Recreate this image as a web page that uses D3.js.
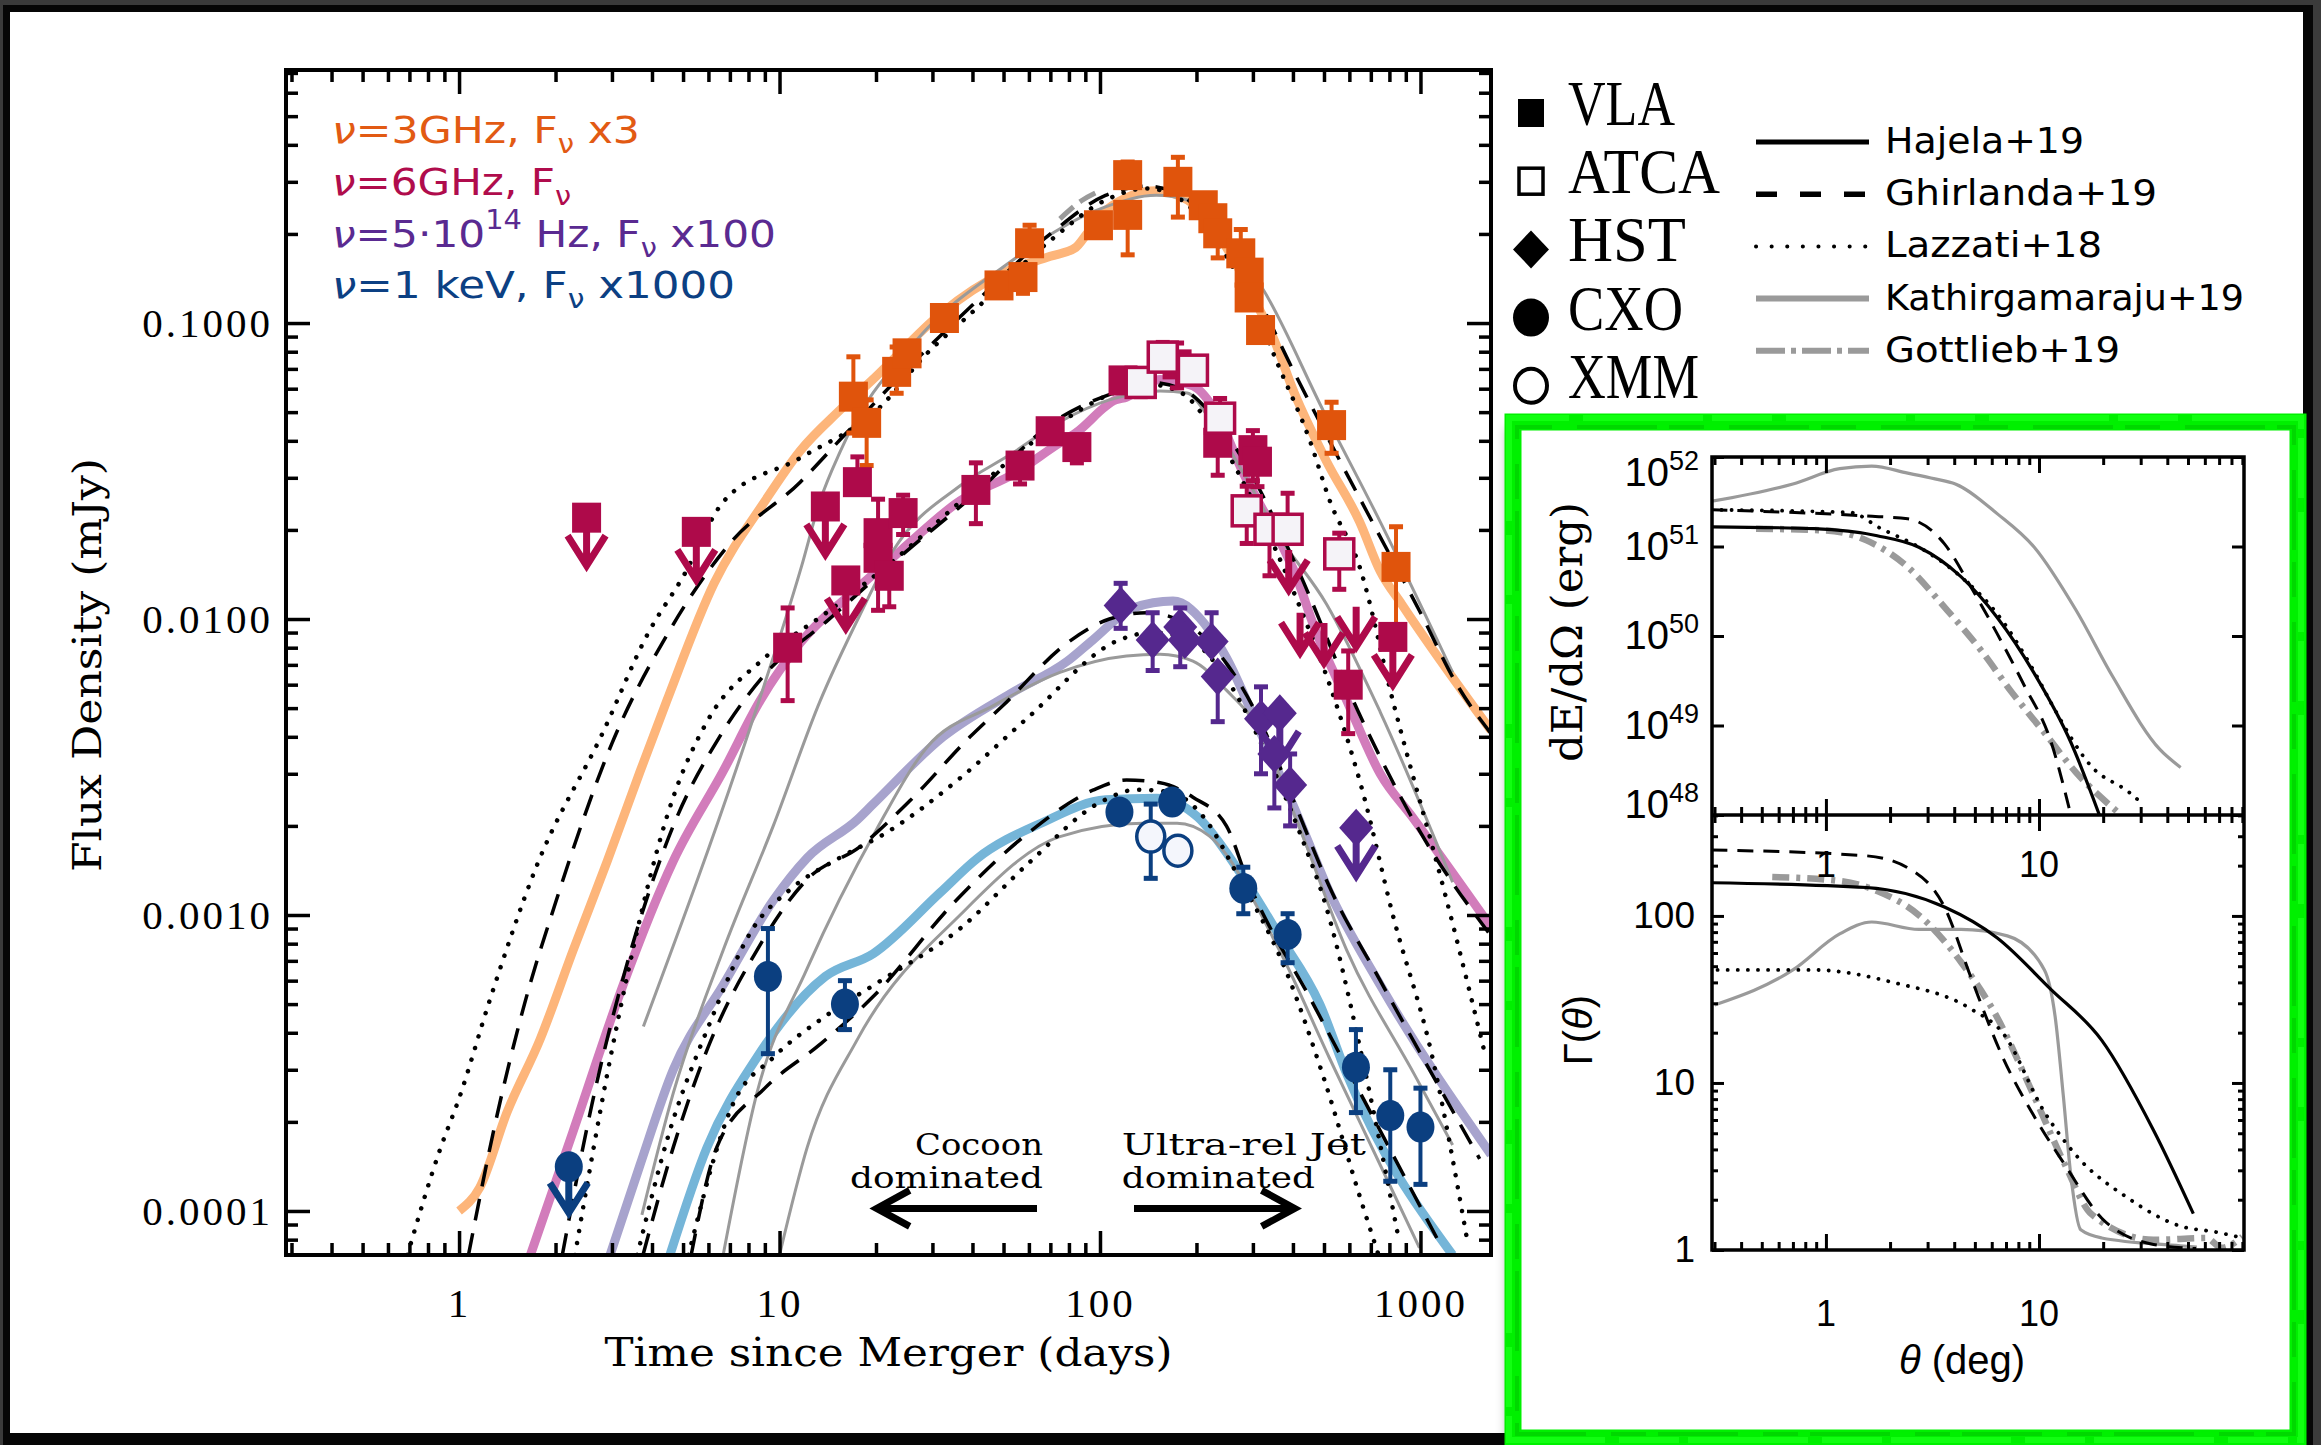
<!DOCTYPE html>
<html>
<head>
<meta charset="utf-8">
<script src="https://cdn.jsdelivr.net/npm/d3@7"></script>
<style>
  body { margin: 0; background: #3b3b3b; }
  svg { display: block; }
</style>
</head>
<body>
<svg id="chart" width="2321" height="1445"></svg>
<script>
// ---------- values ----------
// light curves: [days, mJy] (band scaling already applied)
var hajela3 = [[1,1e-4],[1.16,1.2e-4],[1.41,2.15e-4],[1.79,3.8e-4],[2.27,7.6e-4],[2.9,1.52e-3],[3.67,3.05e-3],[4.45,5.3e-3],[6.25,0.0132],[9,0.025],[11.6,0.037],[15.5,0.051],[20,0.066],[32,0.108],[50,0.148],[70,0.168],[84,0.18],[91,0.2],[104,0.24],[150,0.28],[188,0.26],[262,0.163],[312,0.113],[346,0.09],[404,0.058],[510,0.034],[646,0.0213],[749,0.0145],[875,0.0112],[1660,0.0042]];
var ghirlanda3 = [[1.07,7.1e-5],[1.3,2e-4],[1.6,5e-4],[2,1.1e-3],[3,3.8e-3],[4.5,9e-3],[7,0.018],[11.6,0.029],[16,0.042],[25,0.07],[40,0.115],[70,0.2],[104,0.27],[140,0.29],[180,0.27],[230,0.2],[300,0.13],[404,0.068],[520,0.04],[712,0.021],[1000,0.0105],[1300,0.006],[1660,0.0041]];
var lazzati3 = [[0.69,7.1e-5],[0.87,1.6e-4],[1,2.4e-4],[1.25,5.2e-4],[1.74,1.45e-3],[2.8,4.1e-3],[3.9,9e-3],[5,0.0139],[6.7,0.025],[11.6,0.035],[20.6,0.052],[28.8,0.0788],[39.3,0.107],[70,0.19],[104,0.26],[140,0.285],[180,0.26],[230,0.19],[300,0.115],[362,0.071],[452,0.04],[522,0.025],[646,0.015],[820,0.0053],[1200,0.00115],[1600,3.3e-4]];
var kathir3 = [[3.76,4.2e-4],[8.1,4.3e-3],[11.7,0.015],[13.4,0.0252],[15.5,0.037],[26.8,0.0877],[50,0.155],[104,0.247],[150,0.27],[188,0.26],[242,0.2],[324,0.129],[500,0.05],[749,0.0213],[1260,0.0066]];
var gottlieb3 = [[75,0.225],[88,0.26],[100,0.28]];

var hajela6 = [[1.67,7.1e-5],[2.27,1.86e-4],[3.25,5.8e-4],[4.66,1.52e-3],[6.67,3.06e-3],[8.7,5.3e-3],[11.6,8.3e-3],[17.8,0.0129],[24,0.0171],[36.6,0.0251],[54,0.031],[75,0.0394],[84,0.0425],[112,0.055],[121,0.0562],[154,0.0645],[195,0.0613],[225,0.052],[279,0.0314],[376,0.0171],[404,0.0145],[466,0.0094],[589,0.0053],[749,0.003],[944,0.00214],[1660,9.1e-4]];
var ghirlanda6 = [[2.1,7.1e-5],[2.6,2.3e-4],[3.3,6.5e-4],[4.66,2.0e-3],[6.5,4e-3],[9,6.5e-3],[14,0.0098],[22.6,0.0155],[40,0.026],[75,0.0478],[110,0.058],[143,0.063],[180,0.06],[220,0.05],[282,0.034],[400,0.016],[655,0.0046],[1000,0.0019],[1660,8.5e-4]];
var lazzati6 = [[2.3,7.1e-5],[3.0,3.5e-4],[4.66,2.5e-3],[5.94,4.5e-3],[9,7.4e-3],[14,0.0105],[22.6,0.0157],[40,0.027],[75,0.046],[110,0.058],[143,0.062],[180,0.058],[230,0.042],[300,0.025],[404,0.0122],[551,0.005],[661,0.0026],[820,0.001],[1090,3.3e-4],[1390,8.3e-5]];
var kathir6 = [[3.72,9.7e-5],[4.66,2.5e-4],[6.67,7.6e-4],[9.56,2.0e-3],[13.4,5.3e-3],[17.8,0.0103],[22.6,0.017],[36.6,0.0282],[52.6,0.036],[75,0.0464],[107,0.055],[154,0.0589],[187,0.058],[219,0.0477],[279,0.0314],[356,0.0196],[510,0.0112],[749,0.00485],[1260,0.00129]];

var hajelaOpt = [[2.96,7.1e-5],[3.67,1.43e-4],[4.66,3.0e-4],[6.67,5.8e-4],[9.56,1.12e-3],[12.2,1.56e-3],[17.5,2.1e-3],[19.6,2.37e-3],[32.4,4.0e-3],[52.6,5.6e-3],[79,7.2e-3],[95,8.5e-3],[127,0.0109],[169,0.0115],[219,9.2e-3],[248,7.4e-3],[315,4.2e-3],[404,2.3e-3],[519,1.2e-3],[749,5.8e-4],[1660,1.55e-4]];
var ghirlandaOpt = [[3.75,7.1e-5],[4.66,1.64e-4],[5.94,3.5e-4],[8.5,7.6e-4],[12.2,1.32e-3],[17.8,1.7e-3],[25.5,2.43e-3],[39.3,4.0e-3],[49.8,5.1e-3],[79,8.3e-3],[107,0.01],[140,0.0105],[190,9.5e-3],[250,7.0e-3],[320,4.4e-3],[404,2.4e-3],[519,1.25e-3],[749,6e-4],[1530,1.5e-4]];
var lazzatiOpt = [[3.6,7.1e-5],[4.5,1.8e-4],[6,4.2e-4],[8.26,9e-4],[10.8,1.22e-3],[15.4,1.56e-3],[21.6,1.9e-3],[36.6,2.9e-3],[59,4.6e-3],[115,8.5e-3],[145,9e-3],[190,8.5e-3],[250,6.2e-3],[330,3.5e-3],[420,1.9e-3],[510,1.05e-3],[650,3.5e-4],[860,7.8e-5]];
var kathirOpt = [[6.67,7.1e-5],[8.5,2.5e-4],[12.2,6.6e-4],[20.1,1.95e-3],[28.8,3.68e-3],[46.5,5.1e-3],[75,6.6e-3],[121,7.5e-3],[154,7.6e-3],[195,7.2e-3],[248,5.75e-3],[315,4.2e-3],[411,2.09e-3],[589,7.6e-4],[956,2.9e-4],[1260,1.67e-4]];

var hajelaX = [[4.55,7.1e-5],[5.94,1.64e-4],[8.5,3.3e-4],[13.9,6.2e-4],[19.6,7.4e-4],[31.7,1.19e-3],[41.3,1.55e-3],[66,2.05e-3],[104,2.45e-3],[150,2.48e-3],[202,2.14e-3],[270,1.42e-3],[363,8.5e-4],[485,5.0e-4],[589,2.9e-4],[1260,7.1e-5]];
var ghirlandaX = [[5.3,7.1e-5],[6.37,1.64e-4],[9,2.6e-4],[13.4,3.66e-4],[19.6,5.3e-4],[35,1.1e-3],[60,1.9e-3],[95,2.64e-3],[121,2.86e-3],[154,2.8e-3],[195,2.5e-3],[248,2.0e-3],[288,1.32e-3],[463,5e-4],[1125,8.1e-5]];
var lazzatiX = [[5.2,7.1e-5],[7.16,2.3e-4],[9.56,3.3e-4],[14.1,4.6e-4],[20.2,5.9e-4],[36.6,9e-4],[60,1.5e-3],[100,2.4e-3],[130,2.65e-3],[165,2.6e-3],[210,2.15e-3],[270,1.35e-3],[380,6.5e-4],[500,2.8e-4],[650,1.1e-4],[740,7.1e-5]];
var kathirX = [[10,7.1e-5],[12.2,1.64e-4],[17.5,3.8e-4],[36.6,1.0e-3],[75,1.84e-3],[136,2.04e-3],[174,2.04e-3],[219,1.85e-3],[363,7.6e-4],[519,3.3e-4],[749,1.43e-4],[993,7.5e-5]];

// observations: [days, mJy, low end of bar, high end of bar]
var vla3 = [[17.0,0.0564,0.0425,0.0769],[18.7,0.046,0.033,0.055],[23.2,0.0684,0.0579,0.083],[25.0,0.079,0.079,0.079],[32.7,0.104,0.104,0.104],[48.4,0.134,0.134,0.134],[57.5,0.143,0.126,0.143],[60.3,0.186,0.186,0.214],[98.9,0.214,0.214,0.214],[122,0.316,0.316,0.35],[122,0.232,0.17,0.232],[175,0.30,0.228,0.363],[210,0.25,0.25,0.25],[225,0.226,0.226,0.226],[233,0.201,0.166,0.201],[275,0.172,0.172,0.207],[292,0.148,0.148,0.148],[292,0.122,0.122,0.122],[317,0.0947,0.0947,0.0947],[528,0.0452,0.0363,0.054],[839,0.015,0.0094,0.0205]];
var vla6 = [[10.6,0.008,0.0053,0.0109],[17.5,0.029,0.029,0.0353],[20.3,0.0195,0.0195,0.0254],[20.3,0.0161,0.0107,0.0161],[22,0.014,0.011,0.014],[24.3,0.0228,0.0193,0.0262],[41,0.0273,0.021,0.0337],[56.3,0.033,0.0286,0.033],[69.9,0.0431,0.0431,0.0431],[84.7,0.0381,0.0337,0.0381],[118,0.064,0.064,0.064],[174,0.0725,0.0604,0.0856],[233,0.0394,0.0306,0.0394],[300,0.0372,0.0293,0.0433],[310,0.034,0.028,0.034],[595,0.006,0.0041,0.0078]];
var vla6Limits = [[2.5,0.022],[5.5,0.0197],[13.9,0.024],[16.1,0.0135],[820,0.0087]];
var arrow6Limits = [[388,0.0171],[421,0.0105],[500,0.0097],[630,0.011]];
var atca6 = [[134,0.063,0.0564,0.063],[157,0.0767,0.0767,0.086],[195,0.0693,0.0693,0.0693],[237,0.0477,0.0477,0.0556],[287,0.0232,0.018,0.0281],[338,0.0201,0.014,0.0201],[385,0.0201,0.0201,0.0266],[558,0.0166,0.0126,0.0195]];
var hst = [[116,0.0111,0.0093,0.0132],[146,0.0085,0.0067,0.0105],[178,0.0094,0.0069,0.0109],[184,0.0085,0.0085,0.0085],[223,0.0084,0.0084,0.0105],[233,0.0064,0.0045,0.0064],[318,0.0046,0.003,0.0059],[350,0.0035,0.0023,0.0035],[392,0.00275,0.002,0.0035]];
var hstLimits = [[364,0.0048],[630,0.00197]];
var cxo = [[9.2,6.2e-4,3.4e-4,9.0e-4],[16,5.0e-4,4.1e-4,6.0e-4],[115,2.23e-3,2.23e-3,2.23e-3],[168,2.41e-3,2.41e-3,2.41e-3],[280,1.23e-3,1.01e-3,1.45e-3],[385,8.6e-4,6.9e-4,1.01e-3],[629,3.06e-4,2.15e-4,4.1e-4],[805,2.1e-4,1.26e-4,3.0e-4],[1000,1.92e-4,1.23e-4,2.6e-4]];
var cxoLimits = [[2.2,1.41e-4]];
var xmm = [[144,1.84e-3,1.33e-3,2.37e-3],[175,1.65e-3,1.65e-3,1.8e-3]];

// inset, top: [theta deg, dE/dOmega erg]
var eHajela = [[0.29,1.66e51],[0.88,1.58e51],[1.74,1.32e51],[2.73,9.8e50],[4.3,4.6e50],[6.35,1.62e50],[9.45,3.9e49],[14.1,6.5e48],[19.2,1e48]];
var eGhirlanda = [[0.29,2.57e51],[1.55,2.19e51],[2.42,2.04e51],[3.6,1.07e51],[4.8,3.5e50],[6.35,1.07e50],[8.4,3.0e49],[11.4,6.5e48],[14.1,1e48]];
var eLazzati = [[0.29,2.57e51],[1.3,2.4e51],[1.8,1.6e51],[2.7,1.0e51],[4.3,4.6e50],[6.35,1.78e50],[9.5,4.0e49],[11.4,1.78e49],[17.6,3.5e48],[26.4,1.8e48],[31,1.3e48]];
var eKathir = [[0.29,3.2e51],[0.70,5.0e51],[1.16,7.4e51],[1.64,7.9e51],[2.42,6.6e51],[3.25,5.7e51],[4.05,5.0e51],[6.4,2.3e51],[9.5,9.8e50],[14.9,1.95e50],[22.2,3.5e49],[36.9,5.4e48],[46.2,3.4e48]];
var eGottlieb = [[0.47,1.58e51],[1.0,1.51e51],[1.55,1.17e51],[2.42,5.9e50],[3.6,2.1e50],[5.35,6.9e49],[7.5,2.3e49],[10.6,8.3e48],[14.9,3.0e48],[23.5,1.07e48]];
// inset, bottom: [theta deg, Lorentz factor]
var gHajela = [[0.29,158],[1.55,148],[3.6,113],[6.35,74],[11.3,36.6],[19.7,18],[34.5,5.2],[53,1.65]];
var gGhirlanda = [[0.29,248],[1.55,229],[2.42,194],[3.6,113],[4.8,42.6],[6.75,14.3],[9.5,6.3],[13.3,3.2],[19.7,1.55],[34.5,1.08],[54.6,1.02]];
var gLazzati = [[0.31,47.5],[0.88,47.5],[2.06,40],[4.8,27.7],[6.75,20],[10.6,6.7],[14.9,3.7],[26.1,2.05],[46,1.39],[68,1.28],[90,1.18]];
var gKathir = [[0.30,29.3],[0.70,47.5],[1.16,78],[1.64,92],[2.73,83],[4.3,83],[7.1,76],[10.6,47.5],[11.9,25],[13,8.4],[14.1,2.8],[15.7,1.32],[19.7,1.18],[46,1.06],[55,1.04]];
var gGottlieb = [[0.56,171],[1.16,162],[1.74,141],[2.73,101],[4.3,53],[6.35,24.8],[9.45,8.4],[13.3,3.2],[17.6,1.64],[34.5,1.15],[61,1.18],[72,1.03],[90,1.2]];

// ticks
var xMajor = [1, 10, 100, 1000];
var xTickLabels = ["1", "10", "100", "1000"];
var yMajor = [1e-4, 1e-3, 1e-2, 1e-1];
var yTickLabels = ["0.0001", "0.0010", "0.0100", "0.1000"];
var thetaMajor = [1, 10];
var thetaTickLabels = ["1", "10"];
var eMajor = [1e48, 1e49, 1e50, 1e51, 1e52];
var eTickExp = ["48", "49", "50", "51", "52"];
var gMajor = [1, 10, 100];
var gTickLabels = ["1", "10", "100"];

// annotations (days, mJy)
var annoArrows = [{from: 63.6, to: 20.1, f: 1.02e-4}, {from: 127.7, to: 405, f: 1.02e-4}];

// ---------- drawing ----------
var SERIF = "'Liberation Serif', 'Times New Roman', serif";
var SLAB = "'DejaVu Serif', serif";
var SANS = "'DejaVu Sans', 'Liberation Sans', sans-serif";
var HELV = "'Liberation Sans', Arial, sans-serif";

var svg = d3.select("#chart");
var defs = svg.append("defs");

// picture border
svg.append("rect").attr("width", 2321).attr("height", 1445).attr("fill", "#3b3b3b");
svg.append("rect").attr("x", 3).attr("y", 5).attr("width", 2310).attr("height", 1440).attr("fill", "#060606");
svg.append("rect").attr("x", 10).attr("y", 12).attr("width", 2293).attr("height", 1421).attr("fill", "#fff");

var M = {l: 286, r: 1491, t: 70, b: 1255};
var x = d3.scaleLog().domain([0.2884, 1660]).range([M.l, M.r]);
var y = d3.scaleLog().domain([7.1e-5, 0.716]).range([M.b, M.t]);

defs.append("clipPath").attr("id", "clipMain").append("rect")
  .attr("x", M.l).attr("y", M.t).attr("width", M.r - M.l).attr("height", M.b - M.t);

function logTicks(dom) {
  var out = [];
  for (var e = Math.floor(Math.log10(dom[0])); e <= Math.ceil(Math.log10(dom[1])); e++) {
    for (var k = 2; k < 10; k++) {
      var v = k * Math.pow(10, e);
      if (v > dom[0] && v < dom[1]) out.push(v);
    }
  }
  return out;
}

function ticks(g, axis, values, size, width) {
  g.call(axis.tickValues(values).tickSize(size).tickFormat(""));
  g.select(".domain").remove();
  g.selectAll("line").attr("stroke", "#000").attr("stroke-width", width);
}

var line = d3.line().x(function(d) { return x(d[0]); }).y(function(d) { return y(d[1]); }).curve(d3.curveMonotoneX);

var plot = svg.append("g").attr("clip-path", "url(#clipMain)");

var bands = [
  {thick: "#fdb57a", hajela: hajela3, ghirlanda: ghirlanda3, lazzati: lazzati3, kathir: kathir3},
  {thick: "#d27cbb", hajela: hajela6, ghirlanda: ghirlanda6, lazzati: lazzati6, kathir: kathir6},
  {thick: "#a7a3cd", hajela: hajelaOpt, ghirlanda: ghirlandaOpt, lazzati: lazzatiOpt, kathir: kathirOpt},
  {thick: "#75b5d8", hajela: hajelaX, ghirlanda: ghirlandaX, lazzati: lazzatiX, kathir: kathirX}
];

bands.forEach(function(b) {
  plot.append("path").attr("d", line(b.hajela)).attr("fill", "none")
    .attr("stroke", b.thick).attr("stroke-width", 9);
});
bands.forEach(function(b) {
  plot.append("path").attr("d", line(b.kathir)).attr("fill", "none")
    .attr("stroke", "#9a9a9a").attr("stroke-width", 3);
});
plot.append("path").attr("d", line(gottlieb3)).attr("fill", "none")
  .attr("stroke", "#9a9a9a").attr("stroke-width", 5).attr("stroke-dasharray", "18,8");
bands.forEach(function(b) {
  plot.append("path").attr("d", line(b.ghirlanda)).attr("fill", "none")
    .attr("stroke", "#000").attr("stroke-width", 3.5).attr("stroke-dasharray", "22,13");
  plot.append("path").attr("d", line(b.lazzati)).attr("fill", "none")
    .attr("stroke", "#000").attr("stroke-width", 4.5).attr("stroke-linecap", "round")
    .attr("stroke-dasharray", "0.1,12");
});

// observations
function errBars(g, data, color) {
  data.forEach(function(d) {
    var px = x(d[0]);
    if (d[2] < d[1] || d[3] > d[1]) {
      g.append("line").attr("x1", px).attr("x2", px).attr("y1", y(d[2])).attr("y2", y(d[3]))
        .attr("stroke", color).attr("stroke-width", 4);
    }
    [d[2] < d[1] ? d[2] : null, d[3] > d[1] ? d[3] : null].forEach(function(v) {
      if (v === null) return;
      g.append("rect").attr("x", px - 7).attr("y", y(v) - 2.5).attr("width", 14).attr("height", 5).attr("fill", color);
    });
  });
}
function squares(g, data, fill, stroke) {
  g.selectAll(null).data(data).enter().append("rect")
    .attr("x", function(d) { return x(d[0]) - 14.5; }).attr("y", function(d) { return y(d[1]) - 15; })
    .attr("width", 29).attr("height", 30).attr("fill", fill)
    .attr("stroke", stroke || "none").attr("stroke-width", 3.5);
}
function diamonds(g, data, color) {
  g.selectAll(null).data(data).enter().append("path")
    .attr("d", function(d) {
      var px = x(d[0]), py = y(d[1]);
      return "M" + px + "," + (py - 19) + "L" + (px + 17) + "," + py + "L" + px + "," + (py + 19) + "L" + (px - 17) + "," + py + "Z";
    }).attr("fill", color);
}
function circles(g, data, fill, stroke) {
  g.selectAll(null).data(data).enter().append("ellipse")
    .attr("cx", function(d) { return x(d[0]); }).attr("cy", function(d) { return y(d[1]); })
    .attr("rx", 14).attr("ry", 15.5).attr("fill", fill)
    .attr("stroke", stroke || "none").attr("stroke-width", 3.5);
}
function limitArrows(g, data, color, len) {
  g.selectAll(null).data(data).enter().append("path")
    .attr("d", function(d) {
      var px = x(d[0]), py = y(d[1]), tip = py + len;
      return "M" + px + "," + py + "L" + px + "," + tip + "M" + (px - 19) + "," + (tip - 30) + "L" + px + "," + tip + "L" + (px + 19) + "," + (tip - 30);
    }).attr("fill", "none").attr("stroke", color).attr("stroke-width", 7);
}

var ORANGE = "#e0540c", MAG = "#ae0a4a", PURP = "#55288e", BLUE = "#0b3f80";
var obs = svg.append("g").attr("clip-path", "url(#clipMain)");
errBars(obs, vla3, ORANGE);
squares(obs, vla3, ORANGE);
errBars(obs, vla6, MAG);
errBars(obs, atca6, MAG);
limitArrows(obs, vla6Limits, MAG, 48);
limitArrows(obs, arrow6Limits, MAG, 40);
squares(obs, vla6, MAG);
squares(obs, vla6Limits, MAG);
squares(obs, atca6, "#f5f3f8", MAG);
errBars(obs, hst, PURP);
limitArrows(obs, hstLimits, PURP, 48);
diamonds(obs, hst, PURP);
diamonds(obs, hstLimits, PURP);
errBars(obs, cxo, BLUE);
errBars(obs, xmm, BLUE);
limitArrows(obs, cxoLimits, BLUE, 46);
circles(obs, cxo, BLUE);
circles(obs, cxoLimits, BLUE);
circles(obs, xmm, "#f4f6fc", BLUE);

// annotations
var anno = svg.append("g");
annoArrows.forEach(function(a) {
  var x0 = x(a.from), x1 = x(a.to), py = y(a.f), dir = x1 > x0 ? -1 : 1;
  anno.append("path")
    .attr("d", "M" + x0 + "," + py + "L" + x1 + "," + py + "M" + (x1 + dir * 33) + "," + (py - 18) + "L" + x1 + "," + py + "L" + (x1 + dir * 33) + "," + (py + 18))
    .attr("fill", "none").attr("stroke", "#000").attr("stroke-width", 7);
});
function annoText(txt, tx, f, anchor, len) {
  anno.append("text").attr("x", x(tx)).attr("y", y(f)).attr("text-anchor", anchor)
    .attr("font-family", SLAB).attr("font-size", 29).attr("textLength", len)
    .attr("lengthAdjust", "spacingAndGlyphs").text(txt);
}
annoText("Cocoon", 66.4, 1.54e-4, "end", 128);
annoText("dominated", 66.4, 1.2e-4, "end", 193);
annoText("Ultra-rel Jet", 117, 1.54e-4, "start", 244);
annoText("dominated", 117, 1.2e-4, "start", 193);

// main axes
ticks(svg.append("g").attr("transform", "translate(0," + M.b + ")"), d3.axisBottom(x), logTicks(x.domain()), -12, 3.5);
ticks(svg.append("g").attr("transform", "translate(0," + M.t + ")"), d3.axisTop(x), logTicks(x.domain()), -12, 3.5);
ticks(svg.append("g").attr("transform", "translate(0," + M.t + ")"), d3.axisTop(x), xMajor, -24, 3.5);
ticks(svg.append("g").attr("transform", "translate(" + M.l + ",0)"), d3.axisLeft(y), logTicks(y.domain()), -12, 3.5);
ticks(svg.append("g").attr("transform", "translate(" + M.r + ",0)"), d3.axisRight(y), logTicks(y.domain()), -12, 3.5);
ticks(svg.append("g").attr("transform", "translate(" + M.r + ",0)"), d3.axisRight(y), yMajor, -24, 3.5);

var xAx = svg.append("g").attr("transform", "translate(0," + M.b + ")")
  .call(d3.axisBottom(x).tickValues(xMajor).tickSize(-24).tickPadding(33)
    .tickFormat(function(d, i) { return xTickLabels[i]; }));
var yAx = svg.append("g").attr("transform", "translate(" + M.l + ",0)")
  .call(d3.axisLeft(y).tickValues(yMajor).tickSize(-24).tickPadding(13)
    .tickFormat(function(d, i) { return yTickLabels[i]; }));
[xAx, yAx].forEach(function(g) {
  g.select(".domain").remove();
  g.selectAll("line").attr("stroke", "#000").attr("stroke-width", 3.5);
  g.selectAll("text").attr("font-family", SERIF).attr("font-size", 41).attr("fill", "#000")
    .attr("letter-spacing", 3);
});
svg.append("rect").attr("x", M.l).attr("y", M.t).attr("width", M.r - M.l).attr("height", M.b - M.t)
  .attr("fill", "none").attr("stroke", "#000").attr("stroke-width", 4);

svg.append("text").attr("x", (M.l + M.r) / 2).attr("y", 1366).attr("text-anchor", "middle")
  .attr("font-family", SLAB).attr("font-size", 39).attr("textLength", 568).attr("lengthAdjust", "spacingAndGlyphs")
  .text("Time since Merger (days)");
svg.append("text").attr("transform", "translate(101,665) rotate(-90)").attr("text-anchor", "middle")
  .attr("font-family", SLAB).attr("font-size", 40).attr("textLength", 414).attr("lengthAdjust", "spacingAndGlyphs")
  .text("Flux Density (mJy)");

// band legend (top left)
var bandLegend = [
  {c: "#e25a13", base: 143, len: 308, parts: [["ν", "i"], ["=3GHz, F", ""], ["ν", "sub"], [" x3", ""]]},
  {c: "#b00c4c", base: 195, len: 239, parts: [["ν", "i"], ["=6GHz, F", ""], ["ν", "sub"]]},
  {c: "#5a2a91", base: 247, len: 444, parts: [["ν", "i"], ["=5·10", ""], ["14", "sup"], [" Hz, F", ""], ["ν", "sub"], [" x100", ""]]},
  {c: "#0c4083", base: 298, len: 403, parts: [["ν", "i"], ["=1 keV, F", ""], ["ν", "sub"], [" x1000", ""]]}
];
bandLegend.forEach(function(r) {
  var t = svg.append("text").attr("x", 332).attr("y", r.base).attr("fill", r.c)
    .attr("font-family", SANS).attr("font-size", 38).attr("textLength", r.len).attr("lengthAdjust", "spacingAndGlyphs");
  var shift = 0;
  r.parts.forEach(function(p) {
    var s = t.append("tspan").text(p[0]);
    var want = p[1] === "sub" ? 10 : p[1] === "sup" ? -18 : 0;
    s.attr("dy", want - shift);
    shift = want;
    if (p[1] === "i") s.attr("font-style", "italic");
    if (p[1] === "sub" || p[1] === "sup") s.attr("font-size", 26);
  });
});

// instrument legend
var instruments = ["VLA", "ATCA", "HST", "CXO", "XMM"];
var instrumentLen = [107, 152, 118, 115, 131];
var legG = svg.append("g");
instruments.forEach(function(name, i) {
  var base = 125 + i * 68.2, cy = base - 12, cx = 1531;
  if (i === 0) legG.append("rect").attr("x", cx - 13).attr("y", cy - 14).attr("width", 26).attr("height", 28).attr("fill", "#000");
  if (i === 1) legG.append("rect").attr("x", cx - 12).attr("y", cy - 13).attr("width", 24).attr("height", 26).attr("fill", "#fff").attr("stroke", "#000").attr("stroke-width", 3.5);
  if (i === 2) legG.append("path").attr("d", "M" + cx + "," + (cy - 19) + "l18,19l-18,19l-18,-19z").attr("fill", "#000");
  if (i === 3) legG.append("ellipse").attr("cx", cx).attr("cy", cy).attr("rx", 18).attr("ry", 19).attr("fill", "#000");
  if (i === 4) legG.append("ellipse").attr("cx", cx).attr("cy", cy).attr("rx", 16).attr("ry", 17).attr("fill", "#fff").attr("stroke", "#000").attr("stroke-width", 4);
  legG.append("text").attr("x", 1568).attr("y", base).attr("font-family", SERIF).attr("font-size", 64)
    .attr("textLength", instrumentLen[i]).attr("lengthAdjust", "spacingAndGlyphs").text(name);
});

var models = ["Hajela+19", "Ghirlanda+19", "Lazzati+18", "Kathirgamaraju+19", "Gottlieb+19"];
var modelLen = [199, 272, 217, 359, 235];
var modelStyle = [
  {c: "#000", w: 5, dash: null},
  {c: "#000", w: 5.5, dash: "21,23"},
  {c: "#000", w: 4, dash: "0.1,15.5", cap: "round"},
  {c: "#9a9a9a", w: 6, dash: null},
  {c: "#9a9a9a", w: 6, dash: "29,6,5,6"}
];
models.forEach(function(m, i) {
  var ly = 142 + i * 52.2;
  var s = modelStyle[i];
  legG.append("line").attr("x1", 1756).attr("x2", 1869).attr("y1", ly).attr("y2", ly)
    .attr("stroke", s.c).attr("stroke-width", s.w).attr("stroke-dasharray", s.dash)
    .attr("stroke-linecap", s.cap || "butt");
  legG.append("text").attr("x", 1885).attr("y", ly + 11).attr("font-family", SANS).attr("font-size", 36)
    .attr("textLength", modelLen[i]).attr("lengthAdjust", "spacingAndGlyphs").text(m);
});

// ---------- inset ----------
var shadow = defs.append("filter").attr("id", "shadow").attr("x", "-10%").attr("y", "-10%").attr("width", "120%").attr("height", "120%");
shadow.append("feDropShadow").attr("dx", -5).attr("dy", 6).attr("stdDeviation", 6).attr("flood-color", "#000").attr("flood-opacity", 0.45);

var inset = svg.append("g");
inset.append("rect").attr("x", 1513).attr("y", 422).attr("width", 785).attr("height", 1016)
  .attr("fill", "#fff").attr("filter", "url(#shadow)");
inset.append("rect").attr("x", 1513).attr("y", 422).attr("width", 785).attr("height", 1016)
  .attr("fill", "none").attr("stroke", "#00f000").attr("stroke-width", 17);
inset.append("rect").attr("x", 1509).attr("y", 418).attr("width", 792).attr("height", 1022)
  .attr("fill", "none").attr("stroke", "#11ff11").attr("stroke-width", 6).attr("stroke-dasharray", "60,14,120,9");
inset.append("rect").attr("x", 1517).attr("y", 427).attr("width", 777).attr("height", 1007)
  .attr("fill", "none").attr("stroke", "#00d800").attr("stroke-width", 4).attr("stroke-dasharray", "35,25,80,12");

var I = {l: 1712, r: 2244, t: 457, m: 815, b: 1250};
var xi = d3.scaleLog().domain([0.292, 91.6]).range([I.l, I.r]);
var yE = d3.scaleLog().domain([1e48, 1e52]).range([I.m, I.t]);
var yG = d3.scaleLog().domain([1, 402]).range([I.b, I.m]);

defs.append("clipPath").attr("id", "clipTop").append("rect").attr("x", I.l).attr("y", I.t).attr("width", I.r - I.l).attr("height", I.m - I.t);
defs.append("clipPath").attr("id", "clipBot").append("rect").attr("x", I.l).attr("y", I.m).attr("width", I.r - I.l).attr("height", I.b - I.m);

var insetStyle = {
  hajela: {c: "#000", w: 3.2},
  ghirlanda: {c: "#000", w: 3, dash: "16,10"},
  lazzati: {c: "#000", w: 3.8, dash: "0.1,10", cap: "round"},
  kathir: {c: "#9a9a9a", w: 3.2},
  gottlieb: {c: "#9a9a9a", w: 6.5, dash: "17,7,4,7"}
};
function insetCurves(clip, ys, sets) {
  var g = inset.append("g").attr("clip-path", "url(#" + clip + ")");
  var ln = d3.line().x(function(d) { return xi(d[0]); }).y(function(d) { return ys(d[1]); }).curve(d3.curveMonotoneX);
  sets.forEach(function(s) {
    var st = insetStyle[s[0]];
    g.append("path").attr("d", ln(s[1])).attr("fill", "none").attr("stroke", st.c).attr("stroke-width", st.w)
      .attr("stroke-dasharray", st.dash || null).attr("stroke-linecap", st.cap || "butt");
  });
}
insetCurves("clipTop", yE, [["kathir", eKathir], ["gottlieb", eGottlieb], ["ghirlanda", eGhirlanda], ["lazzati", eLazzati], ["hajela", eHajela]]);
insetCurves("clipBot", yG, [["kathir", gKathir], ["gottlieb", gGottlieb], ["ghirlanda", gGhirlanda], ["lazzati", gLazzati], ["hajela", gHajela]]);

// inset ticks
var thMinor = logTicks(xi.domain());
ticks(inset.append("g").attr("transform", "translate(0," + I.t + ")"), d3.axisTop(xi), thMinor, -8, 3);
ticks(inset.append("g").attr("transform", "translate(0," + I.t + ")"), d3.axisTop(xi), thetaMajor, -16, 3);
ticks(inset.append("g").attr("transform", "translate(0," + I.m + ")"), d3.axisBottom(xi), thMinor, -8, 3);
ticks(inset.append("g").attr("transform", "translate(0," + I.m + ")"), d3.axisBottom(xi), thetaMajor, -16, 3);
ticks(inset.append("g").attr("transform", "translate(0," + I.m + ")"), d3.axisTop(xi), thMinor, -8, 3);
ticks(inset.append("g").attr("transform", "translate(0," + I.m + ")"), d3.axisTop(xi), thetaMajor, -16, 3);
ticks(inset.append("g").attr("transform", "translate(0," + I.b + ")"), d3.axisBottom(xi), thMinor, -8, 3);
ticks(inset.append("g").attr("transform", "translate(0," + I.b + ")"), d3.axisBottom(xi), thetaMajor, -16, 3);
ticks(inset.append("g").attr("transform", "translate(" + I.l + ",0)"), d3.axisLeft(yE), eMajor, -12, 3);
ticks(inset.append("g").attr("transform", "translate(" + I.r + ",0)"), d3.axisRight(yE), eMajor, -12, 3);
ticks(inset.append("g").attr("transform", "translate(" + I.l + ",0)"), d3.axisLeft(yG), logTicks(yG.domain()), -6, 3);
ticks(inset.append("g").attr("transform", "translate(" + I.l + ",0)"), d3.axisLeft(yG), gMajor, -12, 3);
ticks(inset.append("g").attr("transform", "translate(" + I.r + ",0)"), d3.axisRight(yG), logTicks(yG.domain()), -6, 3);
ticks(inset.append("g").attr("transform", "translate(" + I.r + ",0)"), d3.axisRight(yG), gMajor, -12, 3);
inset.append("rect").attr("x", I.l).attr("y", I.t).attr("width", I.r - I.l).attr("height", I.b - I.t)
  .attr("fill", "none").attr("stroke", "#000").attr("stroke-width", 3.5);
inset.append("line").attr("x1", I.l).attr("x2", I.r).attr("y1", I.m).attr("y2", I.m).attr("stroke", "#000").attr("stroke-width", 3.5);

// inset labels
eMajor.forEach(function(v, i) {
  var yy = Math.min(Math.max(yE(v), I.t + 16), I.m - 10);
  var t = inset.append("text").attr("x", 1699).attr("y", yy + 13).attr("text-anchor", "end")
    .attr("font-family", HELV).attr("font-size", 40);
  t.append("tspan").text("10");
  t.append("tspan").attr("dy", -16).attr("font-size", 27).text(eTickExp[i]);
});
gMajor.forEach(function(v, i) {
  inset.append("text").attr("x", 1695).attr("y", yG(v) + 12).attr("text-anchor", "end")
    .attr("font-family", HELV).attr("font-size", 37).text(gTickLabels[i]);
});
thetaMajor.forEach(function(v, i) {
  inset.append("text").attr("x", xi(v)).attr("y", 1326).attr("text-anchor", "middle")
    .attr("font-family", HELV).attr("font-size", 36).text(thetaTickLabels[i]);
  inset.append("text").attr("x", xi(v)).attr("y", 877).attr("text-anchor", "middle")
    .attr("font-family", HELV).attr("font-size", 36).text(thetaTickLabels[i]);
});
inset.append("text").attr("transform", "translate(1582,632) rotate(-90)").attr("text-anchor", "middle")
  .attr("font-family", SLAB).attr("font-size", 42).attr("textLength", 260).attr("lengthAdjust", "spacingAndGlyphs")
  .text("dE/dΩ (erg)");
var gl = inset.append("text").attr("transform", "translate(1592,1030) rotate(-90)").attr("text-anchor", "middle")
  .attr("font-family", HELV).attr("font-size", 40);
gl.append("tspan").text("Γ(");
gl.append("tspan").attr("font-style", "italic").text("θ");
gl.append("tspan").text(")");
var tl = inset.append("text").attr("x", 1962).attr("y", 1374).attr("text-anchor", "middle")
  .attr("font-family", HELV).attr("font-size", 40);
tl.append("tspan").attr("font-style", "italic").text("θ");
tl.append("tspan").text(" (deg)");
</script>
</body>
</html>
